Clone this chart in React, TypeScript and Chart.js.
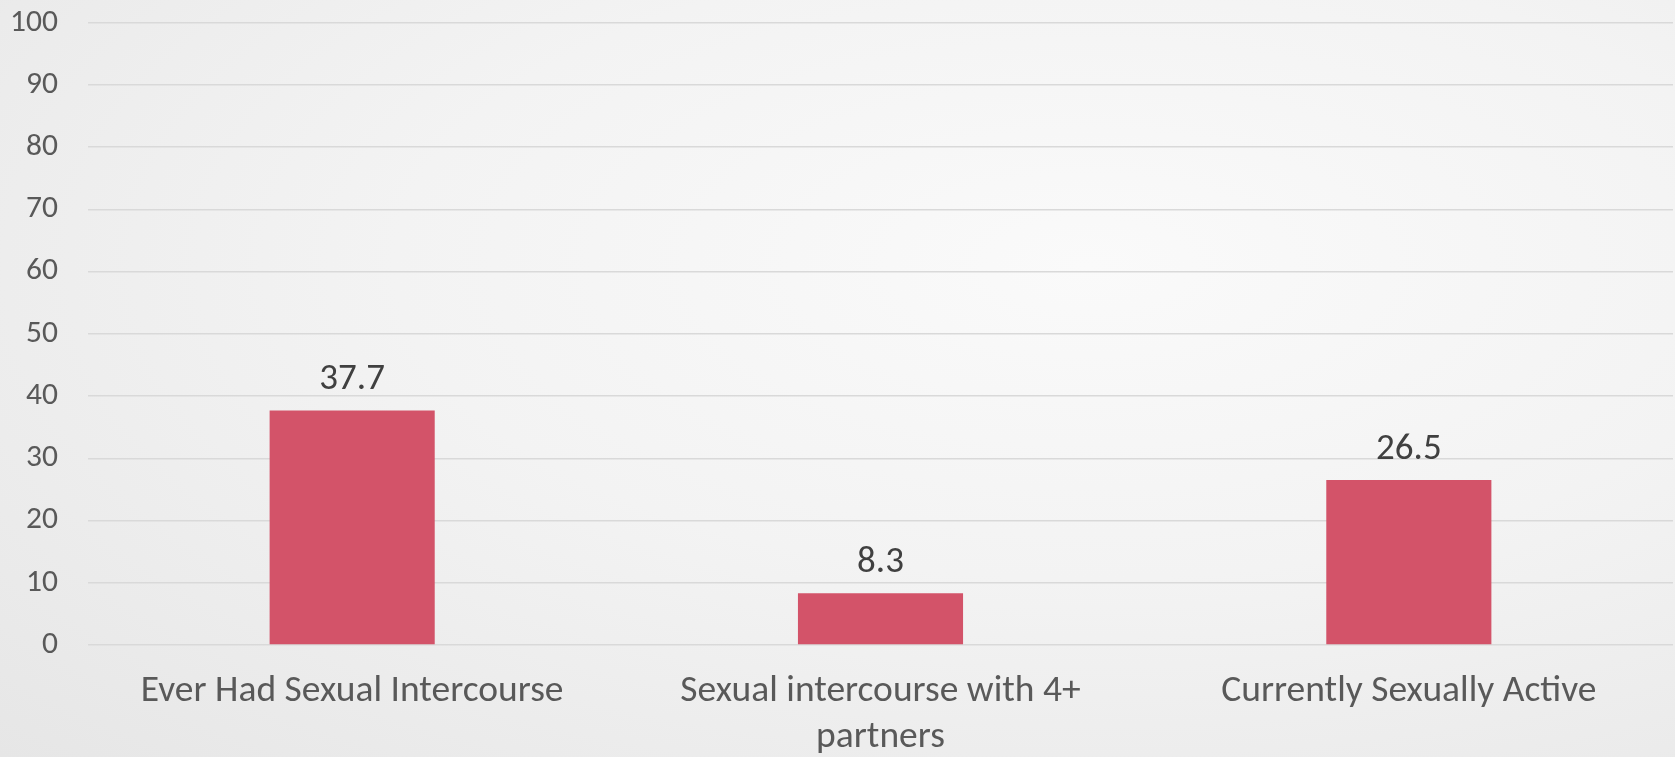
import React, { useEffect, useRef } from "react";
import { Chart, registerables } from "chart.js";

Chart.register(...registerables);

const categories: string[][] = [
  ["Ever Had Sexual Intercourse"],
  ["Sexual intercourse with 4+", "partners"],
  ["Currently Sexually Active"],
];
const values: number[] = [37.7, 8.3, 26.5];
const yTicks: number[] = [0, 10, 20, 30, 40, 50, 60, 70, 80, 90, 100];

const FONT = "Carlito, Calibri, 'Open Sans', sans-serif";

const valueLabels = {
  id: "valueLabels",
  afterDatasetsDraw(chart: any) {
    const ctx = chart.ctx;
    const meta = chart.getDatasetMeta(0);
    ctx.save();
    ctx.font = `37px ${FONT}`;
    ctx.fillStyle = "#404040";
    ctx.textAlign = "center";
    ctx.textBaseline = "alphabetic";
    meta.data.forEach((bar: any, i: number) => {
      ctx.fillText(String(values[i]), bar.x, bar.y - 21);
    });
    ctx.restore();
  },
};

export default function App() {
  const ref = useRef<HTMLCanvasElement | null>(null);
  useEffect(() => {
    if (!ref.current) return;
    const chart = new Chart(ref.current, {
      type: "bar",
      data: {
        labels: categories,
        datasets: [
          {
            data: values,
            backgroundColor: "#d35369",
            borderWidth: 0,
            categoryPercentage: 1,
            barPercentage: 0.3125,
          },
        ],
      },
      options: {
        animation: false,
        responsive: false,
        maintainAspectRatio: false,
        layout: { padding: { left: 0, right: 2, top: 22.7, bottom: 0 } },
        plugins: { legend: { display: false }, tooltip: { enabled: false } },
        scales: {
          y: {
            min: 0,
            max: 100,
            afterBuildTicks: (scale: any) => {
              scale.ticks = yTicks.map((v) => ({ value: v }));
            },
            afterFit: (scale: any) => {
              scale.width = 88;
              scale.paddingTop = 0;
              scale.paddingBottom = 0;
            },
            grid: { color: "#d9d9d9", lineWidth: 1.5, drawTicks: false },
            border: { display: false },
            ticks: {
              padding: 30,
              color: "#595959",
              font: { family: FONT, size: 31.5 },
            },
          },
          x: {
            afterFit: (scale: any) => {
              scale.height = 112;
              scale.paddingLeft = 0;
              scale.paddingRight = 0;
            },
            grid: { display: false, drawTicks: false },
            border: { display: false },
            ticks: {
              padding: 24,
              color: "#595959",
              maxRotation: 0,
              autoSkip: false,
              font: { family: FONT, size: 37.5, lineHeight: 1.22 },
            },
          },
        },
      },
      plugins: [valueLabels],
    });
    return () => chart.destroy();
  }, []);
  return (
    <div
      style={{
        position: "fixed",
        left: 0,
        top: 0,
        width: 1675,
        height: 757,
        background:
          "radial-gradient(ellipse at 65% 35%, #fafafa 0%, #f3f3f3 45%, #e6e6e6 100%)",
      }}
    >
      <canvas ref={ref} width={1675} height={757} style={{ display: "block" }} />
    </div>
  );
}
